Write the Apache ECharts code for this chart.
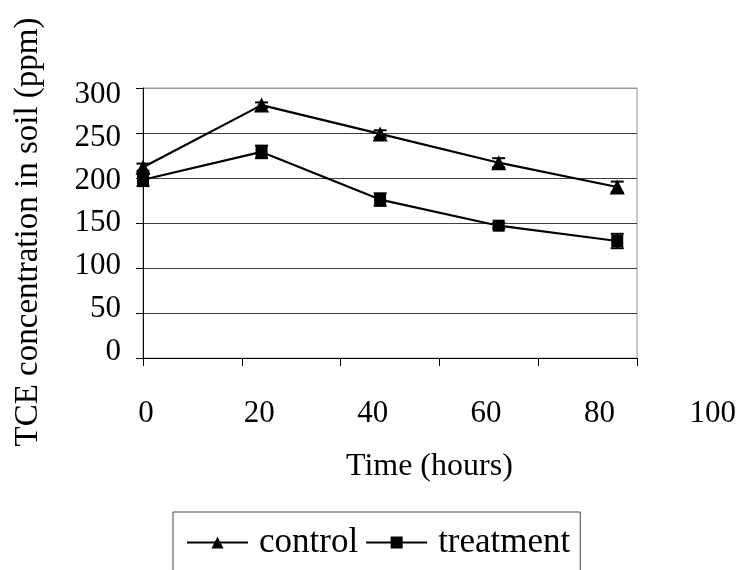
<!DOCTYPE html>
<html>
<head>
<meta charset="utf-8">
<script src="https://cdn.jsdelivr.net/npm/echarts@6/dist/echarts.min.js"></script>
<style>
html,body{margin:0;padding:0;background:#fff;}
#chart{width:739px;height:570px;}
</style>
</head>
<body>
<div id="chart"></div>
<script>
const hours = [0, 24, 48, 72, 96];
const control = [212, 281, 249, 217, 190];
const controlErr = [4, 3, 4, 5, 6];
const treatment = [198, 229, 176, 147, 130];
const treatmentErr = [7, 7, 7, 3, 8];
const xTicks = [0, 20, 40, 60, 80, 100];
const yTicks = [0, 50, 100, 150, 200, 250, 300];

const FONT = '"Liberation Serif", "Times New Roman", serif';

function errData(vals, errs) {
  return hours.map((h, i) => [h, vals[i] - errs[i], vals[i] + errs[i]]);
}
function renderErr(params, api) {
  const x = api.value(0);
  const lo = api.coord([x, api.value(1)]);
  const hi = api.coord([x, api.value(2)]);
  const w = 6.5;
  const style = { stroke: '#000', lineWidth: 2 };
  return {
    type: 'group',
    children: [
      { type: 'line', shape: { x1: lo[0], y1: lo[1], x2: hi[0], y2: hi[1] }, style: style },
      { type: 'line', shape: { x1: lo[0] - w, y1: lo[1], x2: lo[0] + w, y2: lo[1] }, style: style },
      { type: 'line', shape: { x1: hi[0] - w, y1: hi[1], x2: hi[0] + w, y2: hi[1] }, style: style }
    ]
  };
}

const xMin = xTicks[0], xMax = xTicks[xTicks.length - 1], xInt = xTicks[1] - xTicks[0];
const yMin = yTicks[0], yMax = yTicks[yTicks.length - 1], yInt = yTicks[1] - yTicks[0];

const chart = echarts.init(document.getElementById('chart'), null, { renderer: 'canvas' });
chart.setOption({
  animation: false,
  backgroundColor: '#fff',
  textStyle: { fontFamily: FONT, color: '#000' },
  grid: [
    {
      left: 143, right: 102, top: 88, bottom: 212,
      show: true, borderColor: '#999', borderWidth: 1, backgroundColor: 'transparent'
    },
    {
      left: 146, right: 26, top: 94.7, bottom: 218.3, show: false
    }
  ],
  xAxis: [
    {
      gridIndex: 0, type: 'value',
      min: xMin, max: xMax, interval: xInt,
      axisLine: { show: true, lineStyle: { color: '#000', width: 1 } },
      axisTick: { show: true, inside: false, length: 8, lineStyle: { color: '#000' } },
      axisLabel: { show: false },
      splitLine: { show: false }
    },
    {
      gridIndex: 1, type: 'value',
      min: xMin, max: xMax, interval: xInt,
      name: 'Time (hours)', nameLocation: 'middle', nameGap: 99,
      nameTextStyle: { fontFamily: FONT, fontSize: 32, color: '#000' },
      axisLine: { show: false },
      axisTick: { show: false },
      axisLabel: { fontFamily: FONT, fontSize: 31, color: '#000', margin: 47 },
      splitLine: { show: false }
    }
  ],
  yAxis: [
    {
      gridIndex: 0, type: 'value',
      min: yMin, max: yMax, interval: yInt,
      name: 'TCE concentration in soil (ppm)', nameLocation: 'middle', nameGap: 98, nameRotate: 90,
      nameTextStyle: { fontFamily: FONT, fontSize: 33, color: '#000', padding: [0, 18, 0, 0] },
      axisLine: { show: true, lineStyle: { color: '#000', width: 1 } },
      axisTick: { show: true, inside: false, length: 7, lineStyle: { color: '#000' } },
      axisLabel: { show: false },
      splitLine: { show: true, lineStyle: { color: ['#404040','#404040','#404040','#404040','#404040','#404040','#999'], width: 1 } }
    },
    {
      gridIndex: 1, type: 'value',
      min: yMin, max: yMax, interval: yInt,
      axisLine: { show: false },
      axisTick: { show: false },
      axisLabel: { fontFamily: FONT, fontSize: 31, color: '#000', margin: 25 },
      splitLine: { show: false }
    }
  ],
  legend: {
    data: ['control', 'treatment'],
    left: 173, top: 512,
    orient: 'horizontal',
    padding: [13, 10, 40, 13],
    itemGap: 7,
    itemWidth: 61, itemHeight: 15,
    borderColor: '#444', borderWidth: 1,
    textStyle: { fontFamily: FONT, fontSize: 35, color: '#000', padding: [0, 0, 0, 6] }
  },
  series: [
    {
      name: 'control', type: 'line',
      xAxisIndex: 0, yAxisIndex: 0,
      data: hours.map((h, i) => [h, control[i]]),
      symbol: 'triangle', symbolSize: 15,
      lineStyle: { color: '#000', width: 2.2 },
      itemStyle: { color: '#000' },
      z: 3
    },
    {
      name: 'treatment', type: 'line',
      xAxisIndex: 0, yAxisIndex: 0,
      data: hours.map((h, i) => [h, treatment[i]]),
      symbol: 'rect', symbolSize: 12,
      lineStyle: { color: '#000', width: 2.2 },
      itemStyle: { color: '#000' },
      z: 3
    },
    {
      name: 'controlErr', type: 'custom',
      xAxisIndex: 0, yAxisIndex: 0,
      data: errData(control, controlErr),
      renderItem: renderErr,
      encode: { x: 0, y: [1, 2] },
      z: 4
    },
    {
      name: 'treatmentErr', type: 'custom',
      xAxisIndex: 0, yAxisIndex: 0,
      data: errData(treatment, treatmentErr),
      renderItem: renderErr,
      encode: { x: 0, y: [1, 2] },
      z: 4
    }
  ]
});
</script>
</body>
</html>
